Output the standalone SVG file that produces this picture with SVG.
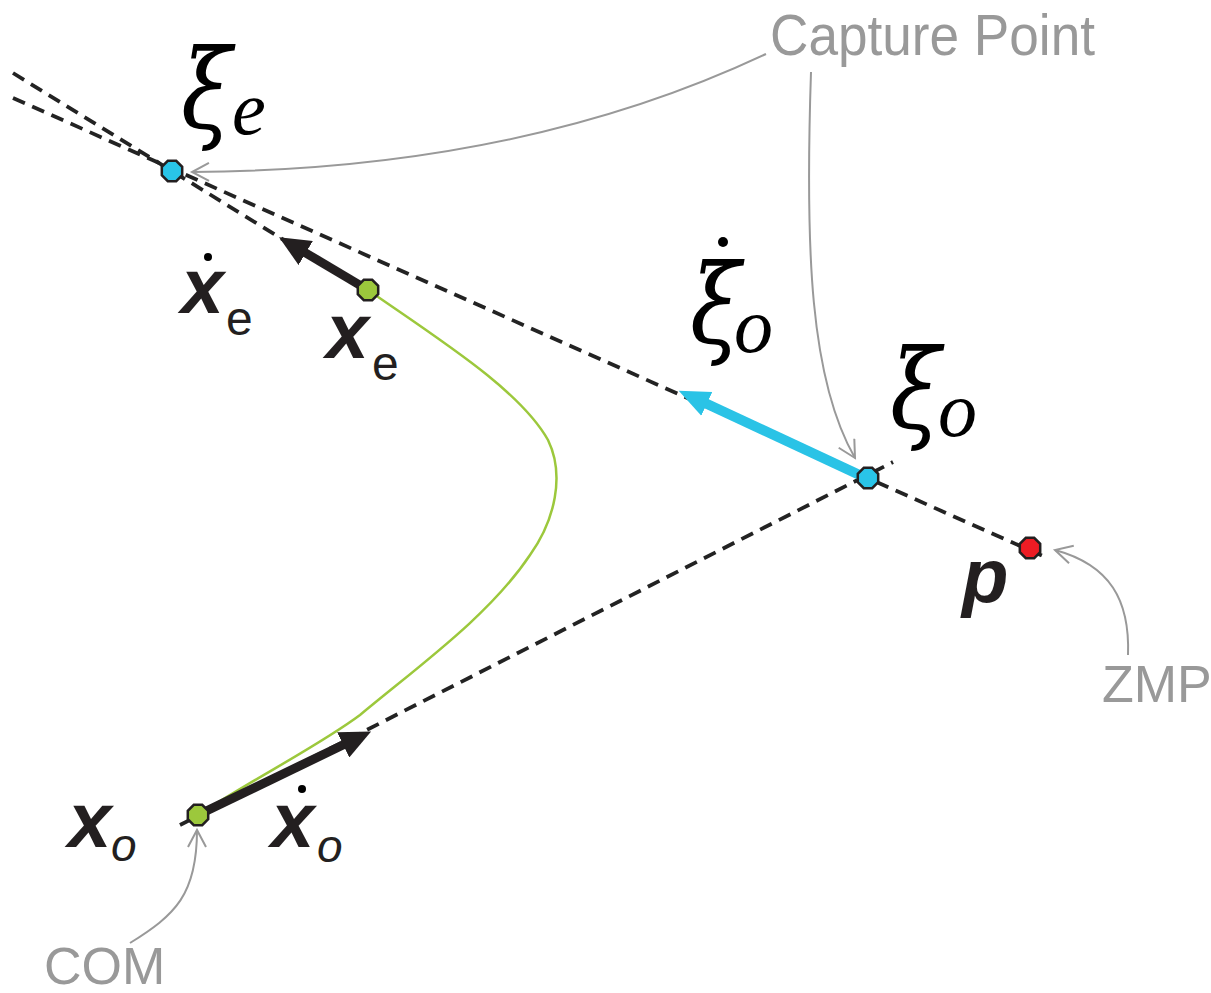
<svg xmlns="http://www.w3.org/2000/svg" width="1211" height="993" viewBox="0 0 1211 993">
<style>
.dash{fill:none;stroke:#232323;stroke-width:3.8;stroke-dasharray:13 8}
.vec{fill:none;stroke:#231f20;stroke-width:9}
.cyanvec{fill:none;stroke:#2ac3e6;stroke-width:10}
.traj{fill:none;stroke:#9cc83c;stroke-width:2.5}
.call{fill:none;stroke:#999;stroke-width:2}
.node{stroke:#231f20;stroke-width:2.5}
.gl{font-family:"Liberation Sans",Arial,sans-serif;fill:#999}
.greek{font-family:"DejaVu Serif","Liberation Serif",serif;font-style:italic;fill:#000;font-size:110px}
.ital{font-family:"Liberation Serif","Times New Roman",serif;font-style:italic;fill:#000}
.bx{font-family:"Liberation Sans",Arial,sans-serif;font-weight:bold;font-style:italic;fill:#231f20}
.sub{font-family:"Liberation Sans",Arial,sans-serif;fill:#231f20}
</style>
<defs>
<marker id="headK" markerUnits="userSpaceOnUse" markerWidth="32" markerHeight="28" refX="2" refY="14" orient="auto"><path d="M0,0 L31,14 L0,28 z" fill="#231f20"/></marker>
<marker id="headC" markerUnits="userSpaceOnUse" markerWidth="32" markerHeight="28" refX="2" refY="14" orient="auto"><path d="M0,1 L31,14 L0,27 z" fill="#2ac3e6"/></marker>
<marker id="open" markerUnits="userSpaceOnUse" markerWidth="22" markerHeight="22" refX="18" refY="10" orient="auto"><path d="M1,1 L18,10 L1,19" fill="none" stroke="#999" stroke-width="2"/></marker>
<polygon id="oct" points="10.2,4.2 4.2,10.2 -4.2,10.2 -10.2,4.2 -10.2,-4.2 -4.2,-10.2 4.2,-10.2 10.2,-4.2"/>
</defs>

<g id="trajectory">
<path class="traj" d="M368,290 C440,340 520,390 548,440 C565,475 555,520 530,555 C490,615 420,665 360,715 C320,745 260,775 198,815"/>
</g>

<g id="connectors">
<line class="dash" x1="13" y1="98" x2="1045" y2="557"/>
<line class="dash" x1="13" y1="73" x2="300" y2="250"/>
<line class="dash" x1="180" y1="825" x2="893" y2="462"/>
<line class="vec" x1="368" y1="290" x2="304" y2="252" marker-end="url(#headK)"/>
<line class="vec" x1="198" y1="815" x2="345" y2="744" marker-end="url(#headK)"/>
<line class="cyanvec" x1="866" y1="478" x2="705" y2="403" marker-end="url(#headC)"/>
<path class="call" d="M766,54 Q520,170 192,172" marker-end="url(#open)"/>
<path class="call" d="M811,72 C805,250 810,380 855,458" marker-end="url(#open)"/>
<path class="call" d="M1128,655 C1130,600 1110,565 1055,550" marker-end="url(#open)"/>
<path class="call" d="M130,943 C175,915 197,895 197,830" marker-end="url(#open)"/>
</g>

<g id="xi_e">
<use href="#oct" x="172" y="171" class="node" fill="#29c4e8"/>
<text class="greek" transform="translate(181,128) scale(0.84,1)">ξ</text>
<text class="ital" x="232" y="134" font-size="76">e</text>
</g>

<g id="x_e">
<use href="#oct" x="368" y="290" class="node" fill="#9cc83c"/>
<text class="bx" x="326" y="358" font-size="77">x</text>
<text class="sub" x="372" y="380" font-size="48">e</text>
</g>

<g id="xdot_e">
<circle cx="208" cy="257" r="4" fill="#000"/>
<text class="bx" x="181" y="313" font-size="77">x</text>
<text class="sub" x="226" y="335" font-size="48">e</text>
</g>

<g id="xidot_o">
<circle cx="723" cy="242" r="5" fill="#000"/>
<text class="greek" transform="translate(690,343) scale(0.84,1)">ξ</text>
<text class="ital" x="734" y="352" font-size="78">o</text>
</g>

<g id="xi_o">
<use href="#oct" x="868" y="478" class="node" fill="#29c4e8"/>
<text class="greek" transform="translate(890,428) scale(0.84,1)">ξ</text>
<text class="ital" x="938" y="436" font-size="78">o</text>
</g>

<g id="p">
<use href="#oct" x="1030" y="548" class="node" fill="#ed1c24"/>
<text class="bx" x="962" y="602" font-size="76">p</text>
</g>

<g id="x_o">
<use href="#oct" x="198" y="815" class="node" fill="#9cc83c"/>
<text class="bx" x="68" y="847" font-size="78">x</text>
<text class="sub" x="111" y="861" font-size="46" font-style="italic">o</text>
</g>

<g id="xdot_o">
<circle cx="302" cy="789" r="4" fill="#000"/>
<text class="bx" x="271" y="847" font-size="78">x</text>
<text class="sub" x="317" y="862" font-size="46" font-style="italic">o</text>
</g>

<g id="labels">
<text class="gl" x="770" y="55" font-size="57" textLength="325" lengthAdjust="spacingAndGlyphs">Capture Point</text>
<text class="gl" x="1102" y="702" font-size="52">ZMP</text>
<text class="gl" x="44" y="984" font-size="52">COM</text>
</g>
</svg>
